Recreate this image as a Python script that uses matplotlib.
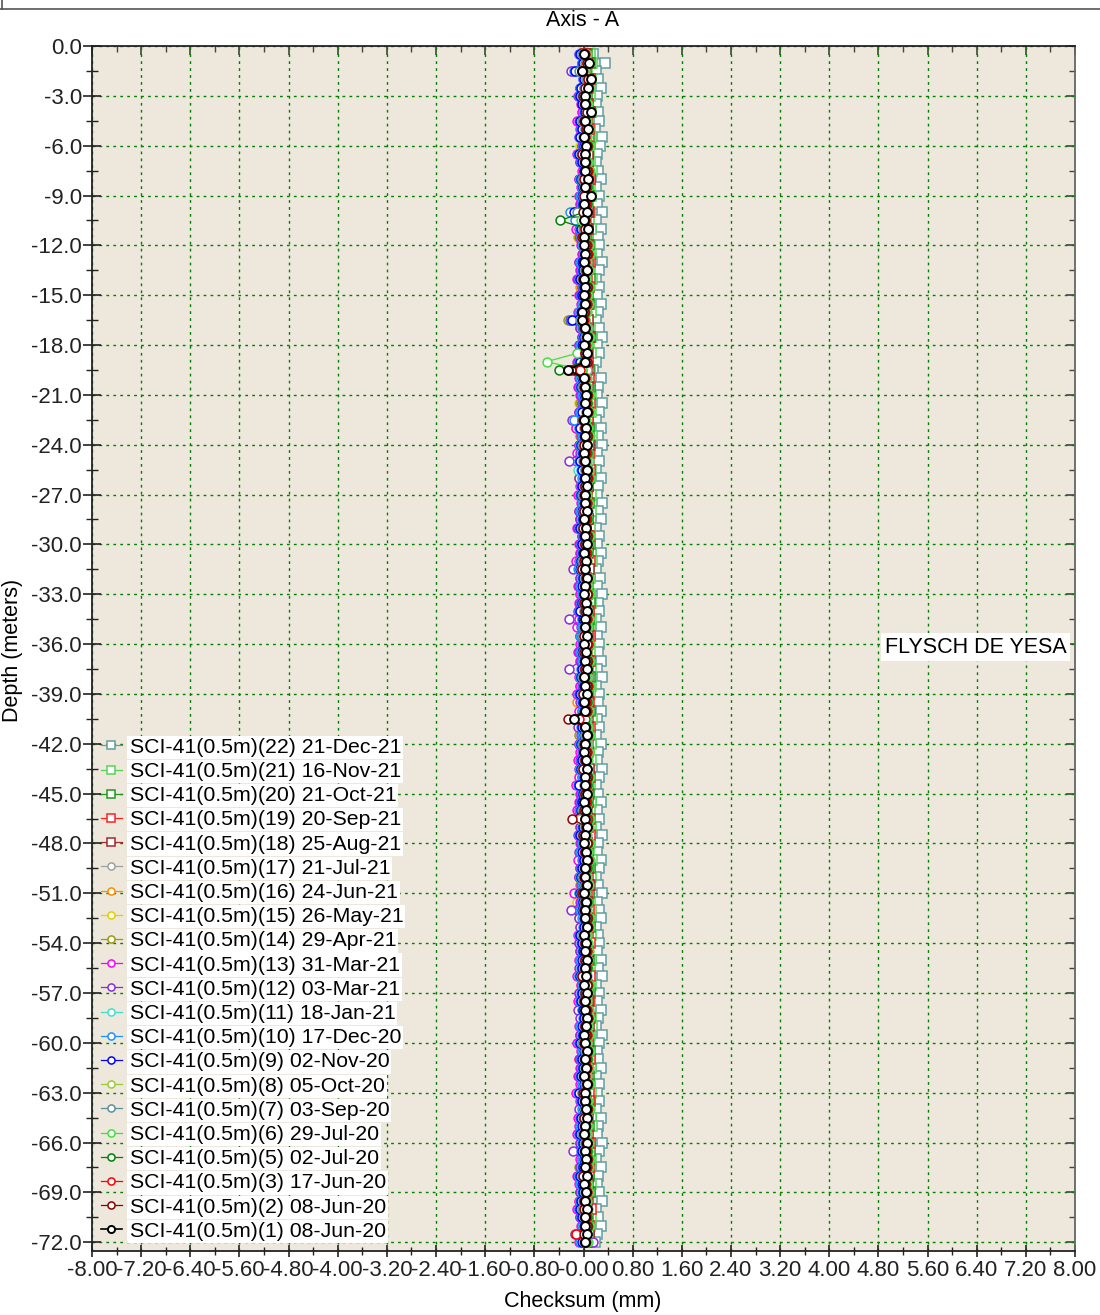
"""Inclinometer checksum profile, SCI-41 axis A."""

import matplotlib

matplotlib.use("Agg")
import matplotlib.pyplot as plt
import numpy as np
from matplotlib.lines import Line2D
from matplotlib.ticker import MultipleLocator

plt.rcParams["font.family"] = ["Liberation Sans", "DejaVu Sans"]

# depth of each reading (m), every 0.5 m down to 72 m
DEPTH = np.arange(-0.5, -72.01, -0.5)

# checksum values in hundredths of mm, one list per survey, top to bottom
S22 = [16, 35, 20, 24, 28, 22, 20, 24, 26, 18, 30, 27, 22, 20, 24, 29, 20, 26,
       22, 30, 20, 28, 24, 26, 22, 30, 25, 20, 26, 22, 28, 23, 20, 26, 30, 22,
       26, 20, 16, 28, 24, 22, 30, 26, 21, 28, 24, 30, 22, 26, 20, 28, 24, 22,
       30, 24, 28, 20, 26, 22, 29, 24, 20, 27, 22, 30, 24, 26, 20, 28, 22, 26,
       24, 28, 22, 30, 20, 26, 24, 29, 22, 26, 20, 28, 24, 22, 30, 26, 20, 24,
       28, 22, 26, 20, 30, 24, 22, 28, 26, 20, 24, 30, 22, 26, 28, 20, 24, 26,
       22, 28, 24, 30, 20, 26, 22, 28, 24, 20, 30, 26, 22, 24, 28, 20, 26, 22,
       26, 20, 28, 24, 22, 30, 26, 20, 28, 24, 22, 26, 30, 20, 24, 28, 22, 18]
S21 = [10, 14, 6, 12, 9, 11, 7, 13, 8, 10, 12, 6, 9, 11, 14, 8, 10, 12,
       7, 11, 9, 13, 6, 10, 12, 8, 11, 14, 9, 7, 10, 12, 8, 11, 13, 9,
       12, 8, 10, 6, 11, 13, 9, 12, 7, 10, 14, 8, 11, 9, 13, 10, 6, 12,
       9, 13, 7, 11, 10, 8, 12, 14, 9, 11, 6, 10, 13, 8, 12, 9, 11, 7,
       11, 7, 13, 9, 12, 10, 8, 11, 14, 6, 10, 12, 9, 13, 7, 11, 10, 8,
       13, 10, 8, 12, 7, 11, 9, 14, 10, 12, 8, 6, 11, 13, 9, 10, 12, 7,
       8, 12, 11, 7, 13, 9, 10, 6, 12, 14, 11, 9, 8, 10, 13, 7, 11, 12,
       10, 9, 12, 14, 8, 11, 7, 13, 10, 9, 12, 11, 6, 8, 13, 10, 9, 11]
S20 = [6, 10, 4, 9, 7, 5, 8, 11, 3, 7, 9, 5, 6, 8, 4, 10, 7, 9,
       5, 8, 3, 7, 4, 9, 6, 3, 8, 10, 5, 7, 9, 4, 6, 8, 11, 5,
       7, 4, 9, 6, 10, 5, 8, 3, 7, 9, 6, 11, 4, 8, 5, 9, 7, 6,
       9, 6, 8, 4, 7, 10, 5, 9, 6, 3, 8, 7, 10, 5, 9, 6, 4, 8,
       4, 9, 7, 11, 5, 8, 6, 10, 3, 7, 9, 5, 8, 6, 4, 10, 7, 9,
       8, 5, 10, 6, 9, 4, 7, 8, 11, 5, 6, 9, 7, 3, 8, 10, 5, 6,
       6, 9, 4, 8, 7, 10, 5, 6, 9, 3, 8, 7, 11, 6, 5, 9, 8, 4,
       10, 7, 5, 9, 6, 8, 11, 4, 7, 9, 5, 10, 6, 8, 7, 4, 9, 5]
S19 = [4, 8, 2, 11, 6, 3, 7, 10, 5, 9, 1, 6, 8, 4, 7, 11, 3, 8,
       6, 9, 4, 7, 2, 8, 5, 10, 3, 6, 9, 4, 7, 1, 5, 8, 10, 6,
       3, 7, 5, 9, 6, 4, 10, 2, 8, 5, 7, 3, 9, 6, 11, 4, 7, 5,
       8, 4, 6, 2, 9, 7, 3, 10, 5, 8, 4, 6, 2, 9, 5, 7, 10, 3,
       5, 10, 3, 8, 6, 2, 9, 4, 7, 10, 3, 8, 5, 6, 1, 9, 4, 7,
       7, 3, 9, 5, 10, 6, 4, 8, 2, 7, 11, 5, 3, 9, 6, 4, 8, 10,
       4, 8, 6, 10, 3, 7, 9, 5, 11, 2, 6, 8, 4, 10, 7, 3, 5, 9,
       9, 5, 7, 3, 8, 10, 4, 6, 9, 1, 7, 5, 8, 12, 6, 9, 3, 6]
S18 = [2, 6, 0, 8, 4, 1, 5, 9, 3, 6, 0, 4, 7, 2, 5, 8, 1, 6,
       3, 7, 1, 5, -2, 6, 2, 8, 4, 0, 6, 3, 5, 1, 7, 4, 9, 2,
       5, 1, 6, 3, 8, 2, 4, 7, 0, 5, 3, 9, 1, 6, 4, 2, 7, 3,
       6, 2, 8, 0, 5, 3, 7, 1, 9, 4, 2, 6, 3, 8, 0, 5, 7, 2,
       3, 7, 1, 6, 4, 0, 8, 2, 5, 7, 1, 4, 6, 3, 9, 2, 5, 4,
       1, 5, 3, 8, 2, 6, 0, 4, 7, 3, 9, 2, 5, 1, 6, 8, 3, 4,
       7, 2, 4, 0, 6, 3, 8, 1, 5, 9, 2, 4, 7, 3, 0, 5, 6, 2,
       4, 8, 2, 5, 1, 7, 3, 6, 0, 4, 8, 2, 6, 3, 5, 1, 9, 4]
S17 = [2, 5, -3, 7, 4, 0, 3, 8, -1, 5, 2, 6, 1, 3, 7, -2, 4, 6,
       0, 4, 2, 6, -3, 3, 5, 1, 7, 2, -1, 4, 6, 0, 3, 8, 2, 5,
       4, 1, 6, 3, 0, 5, 2, 7, -2, 4, 6, 1, 3, 9, 0, 5, 2, 4,
       3, 7, 0, 4, 6, 2, 5, -1, 3, 8, 1, 4, 2, 6, 0, 3, 5, 7,
       5, 0, 3, 7, 2, 4, -2, 6, 1, 5, 3, 8, 0, 4, 6, 2, 7, 1,
       2, 6, 4, 0, 5, 3, 7, 1, 4, -1, 6, 3, 5, 2, 8, 0, 4, 6,
       6, 3, 1, 5, 8, 0, 4, 2, 6, 3, -1, 5, 7, 1, 4, 6, 2, 3,
       1, 5, 7, 2, 4, 6, 0, 3, 8, 5, 2, 4, 1, 7, 3, 5, 0, 4]
S16 = [-4, 2, -8, 4, -2, -6, 0, 3, -5, 1, -3, 2, -7, 0, 4, -4, 1, -2,
       -6, 0, -3, 3, -9, -1, 2, -4, 1, -2, -5, 0, 3, -6, -1, 2, -3, 0,
       1, -3, -10, 0, -5, 2, -2, 4, -6, 0, 2, -4, 1, -3, 3, -7, -1, 2,
       -2, 3, -5, 0, 2, -4, 1, -8, -1, 3, -3, 0, -6, 2, -2, 1, -4, 3,
       0, -5, 2, -3, 4, -1, -11, 1, -4, 2, 0, -2, 3, -6, 1, -3, 2, -1,
       -3, 1, -1, -6, 2, 0, -4, 3, -2, -7, 1, -3, 0, -1, 4, -5, -2, 1,
       2, -2, -6, 1, -4, 3, 0, -3, 2, -1, -5, 1, -2, -8, 0, 2, -3, -1,
       -1, 3, 0, -4, 1, -2, -6, 2, -3, 0, -5, 1, -7, 3, -1, 0, -4, 2]
S15 = [-3, 1, -6, 3, -1, -8, 2, 0, -4, 2, -2, -5, 1, -3, 3, -1, 0, -6,
       0, -4, 2, -1, -7, 1, -2, 3, -5, -1, 2, -3, 0, -6, 1, -2, 4, -3,
       -1, 2, -5, 1, -3, 0, -8, 2, -2, 1, -4, 3, -1, 0, -6, 2, -3, 1,
       2, -2, 0, -5, 3, -1, -3, 1, -7, 2, 0, -4, 1, -2, 3, -9, 0, -1,
       -4, 1, -2, 2, -6, 0, 3, -3, 1, -1, -5, 2, 0, -3, 1, -7, 2, 0,
       1, -3, 2, 0, -4, 3, -1, -6, 2, 0, -2, 1, -10, 3, -1, 0, -5, 2,
       -2, 0, 3, -4, 1, -1, -5, 2, 0, -3, 1, -7, 2, 0, -2, 3, -4, 1,
       0, -5, 1, -2, 3, 0, -3, 1, -6, 2, -1, -4, 2, 0, -3, 1, -14, -2]
S14 = [-5, 0, -9, 2, -3, -7, 1, -2, -6, 0, -4, 1, -8, -1, 2, -5, -2, -3,
       -2, -6, 0, -3, -8, -1, 1, -4, -2, -7, 0, -3, 1, -5, -25, -3, 2, -6,
       -3, 0, -7, -1, -4, 1, -6, 0, -3, -13, -5, 1, -2, -4, 0, -7, -1, -3,
       0, -4, -2, -6, 1, -3, -5, -1, -8, 0, -2, -5, -1, -3, 1, -6, -2, 0,
       -6, -1, -3, 1, -5, -2, 0, -4, -1, -3, -7, 0, -2, -5, -1, -3, 0, -4,
       -1, -5, 0, -2, -6, 1, -3, -4, 0, -2, -5, -1, -3, 0, -7, -2, -4, 1,
       -4, -2, 1, -5, -1, -3, -6, 0, -2, -4, 0, -8, 1, -3, -2, -5, 0, -1,
       -2, -6, -1, -3, 0, -4, -2, -1, -7, 0, -3, -5, 1, -2, -4, -1, -6, -3]
S13 = [-8, -3, -18, -1, -6, -9, -4, -2, -10, -5, -7, -3, -11, -6, -2, -8, -4, -7,
       -5, -9, -3, -12, -6, -4, -2, -8, -5, -10, -3, -7, -4, -9, -14, -6, -3, -8,
       -6, -11, -4, -7, -9, -5, -3, -8, -6, -12, -4, -7, -10, -5, -8, -3, -6, -9,
       -4, -8, -6, -10, -3, -7, -5, -13, -4, -6, -9, -5, -8, -3, -7, -11, -5, -6,
       -9, -5, -3, -8, -6, -11, -4, -7, -10, -5, -3, -8, -6, -9, -4, -7, -12, -5,
       -7, -10, -5, -4, -8, -6, -3, -9, -6, -7, -4, -16, -5, -8, -6, -3, -9, -7,
       -5, -8, -6, -11, -4, -7, -9, -5, -3, -8, -6, -10, -4, -7, -5, -9, -6, -12,
       -6, -4, -9, -7, -10, -5, -8, -6, -4, -11, -7, -5, -8, -10, -6, -4, -9, -7]
S12 = [-6, -2, -20, 0, -5, -8, -3, 1, -7, -4, -6, -2, -9, -5, 0, -7, -3, -6,
       -4, -14, -2, -8, -5, -3, -1, -7, -4, -9, -2, -6, -3, -8, -22, -5, -2, -7,
       -5, -9, -3, -6, -8, -4, -2, -7, -18, -5, -3, -8, -6, -24, -4, -7, -2, -6,
       -3, -7, -5, -9, -2, -6, -4, -8, -17, -5, -7, -3, -6, -9, -24, -4, -6, -2,
       -7, -4, -24, -6, -3, -8, -5, -2, -6, -9, -4, -7, -3, -5, -8, -2, -6, -4,
       -5, -8, -3, -6, -9, -4, -7, -2, -5, -8, -3, -6, -4, -20, -7, -5, -2, -8,
       -6, -3, -8, -5, -2, -7, -4, -9, -6, -3, -5, -8, -2, -6, -4, -7, -3, -5,
       -4, -7, -5, -2, -8, -6, -17, -3, -5, -9, -4, -6, -2, -7, -5, -3, -14, 16]
S11 = [-4, 0, -12, 2, -3, -6, -1, 1, -5, -2, -4, 0, -7, -3, 1, -5, -1, -4,
       -2, -18, 0, -5, -3, -1, 1, -4, -2, -6, 0, -3, -1, -5, -8, -2, 0, -4,
       -3, -6, -12, -4, -5, -1, 0, -4, -3, -7, -1, -5, -2, -6, -9, -1, -3, -5,
       -1, -4, -2, -6, 0, -3, -2, -5, -8, -2, -4, -1, -3, -6, -2, -1, -4, 0,
       -4, -1, -3, -5, 0, -6, -2, -1, -4, -3, -1, -5, 0, -3, -5, -1, -8, -2,
       -3, -5, -1, -2, -6, -1, -4, 0, -3, -5, -1, -7, -2, -4, -1, 0, -6, -3,
       -2, -4, -3, -7, -1, -3, -5, -2, 0, -4, -2, -6, -1, -3, -2, -5, -1, -8,
       -3, -1, -5, -4, -6, -2, -3, -1, -2, -7, -4, -2, -5, -6, -3, -1, -5, -4]
S10 = [-7, -3, -16, -1, -5, -8, -2, 0, -6, -4, -7, -1, -9, -4, 0, -6, -2, -5,
       -3, -22, -14, -6, -4, -2, 0, -5, -3, -8, -1, -4, -2, -7, -20, -3, -1, -6,
       -4, -7, -15, -5, -6, -2, -1, -5, -16, -8, -2, -6, -3, -7, -4, -2, -4, -6,
       -2, -5, -3, -7, -1, -4, -3, -6, -9, -3, -5, -2, -4, -7, -3, -2, -5, -1,
       -5, -2, -4, -6, -1, -7, -3, -2, -5, -4, -2, -6, -1, -4, -6, -2, -9, -3,
       -4, -6, -2, -3, -7, -2, -5, -1, -4, -6, -2, -8, -3, -5, -2, -1, -7, -4,
       -3, -5, -4, -8, -2, -4, -6, -3, -1, -5, -3, -7, -2, -4, -3, -6, -2, -9,
       -4, -2, -6, -5, -7, -3, -4, -2, -3, -8, -5, -3, -6, -7, -4, -2, -6, -5]
S9 = [-5, -1, -14, 1, -4, -6, -2, 2, -5, -3, -5, 0, -8, -2, 1, -4, -1, -3,
      -1, -16, -3, -4, -2, 0, 2, -3, -1, -6, 1, -2, 0, -4, -18, -1, 1, -3,
      -2, -5, -14, -3, -4, 0, 1, -3, -2, -6, 0, -4, -1, -5, -3, 0, -2, -4,
      0, -3, -1, -5, 1, -2, -1, -4, -6, -1, -3, 0, -2, -5, -1, 0, -3, 1,
      -3, 0, -2, -4, 1, -5, -1, 0, -3, -2, 0, -4, 1, -2, -4, 0, -7, -1,
      -2, -4, 0, -1, -5, 0, -3, 1, -2, -4, 0, -6, -1, -3, 0, 1, -5, -2,
      -1, -3, -2, -6, 0, -2, -4, -1, 1, -3, -1, -5, 0, -2, -1, -4, 0, -7,
      -2, 0, -4, -3, -5, -1, -2, 0, -1, -6, -3, -1, -4, -5, -2, 0, -4, -3]
S8 = [3, 6, -2, 5, 1, 2, 5, 6, 2, 3, 0, 4, 1, 4, 5, 2, 1, 3,
      2, 1, 4, 0, -2, 3, 5, 4, 3, 1, 4, 3, 2, 2, 1, 3, 4, 1,
      4, 3, -4, 2, 1, 4, 2, 5, 1, 3, 4, 2, 5, 0, 3, 5, 4, 1,
      3, 2, 5, 1, 4, 3, 2, 1, 0, 3, 4, 6, 2, 1, 3, 4, 2, 5,
      2, 4, 3, 2, 5, 1, 4, 3, -3, 4, 3, 2, 5, 1, 1, 4, 2, 3,
      4, 2, -6, 3, 1, 4, 3, 5, 2, 2, 3, 0, 5, 2, 4, 5, 2, 3,
      3, 4, 2, 0, 4, 2, 3, 3, 5, 4, 3, 1, 4, 2, 3, 2, 4, 1,
      4, 3, 2, 4, 1, 3, 5, 4, 3, 1, 4, 3, 2, 2, 5, 4, 0, 3]
S7 = [-2, 3, -7, 4, 0, -3, 1, 5, -2, 2, -1, 3, -4, 0, 4, -2, 1, -1,
      1, -10, 3, -1, -4, 2, 4, 0, 2, -3, 3, 0, 2, -2, -6, -1, 3, 0,
      0, 2, -9, -1, -2, 3, 1, 4, -3, 0, 3, -2, 1, -1, 2, 4, 0, -2,
      2, -1, 1, -3, 3, 0, 1, -2, -4, 2, 0, 3, -1, 1, 2, 0, -2, 4,
      -1, 3, 0, -2, 4, -3, 1, 2, -1, 0, 3, -2, 2, 0, -3, 3, 1, 0,
      1, -2, 3, 2, -3, 3, 0, 4, 1, -2, 2, -4, 1, -1, 3, 4, -2, 0,
      2, 0, 1, -4, 3, 1, -1, 2, 4, 0, 2, -2, 3, 1, 2, -1, 3, -3,
      0, 3, -1, 0, -2, 2, 1, 3, 2, -3, 0, 2, -1, -2, 1, 3, -1, 0]
S6 = [6, 10, 2, 12, 8, 4, 7, 11, 5, 9, 6, 10, 3, 7, 11, 5, 8, 6,
      8, 4, -4, 7, 3, 9, 11, 6, 9, 4, 10, 7, 9, 5, 2, 6, 10, 7,
      -11, -60, -2, 6, 5, 10, 8, 11, 4, 7, 10, 5, 8, 6, 9, 11, 7, 5,
      9, 6, 8, 4, 10, 7, 8, 5, 3, 9, 7, 10, 6, 8, 9, 7, 5, 11,
      6, 10, 7, 5, 11, 4, 8, 9, 6, 7, 10, 5, 9, 7, 4, 10, 8, 7,
      8, 5, 10, 9, 4, 10, 7, 11, 8, 5, 9, 3, 8, 6, 10, 11, 5, 7,
      9, 7, 8, 3, 10, 8, 6, 9, 11, 7, 9, 5, 10, 8, 9, 6, 10, 4,
      7, 10, 6, 7, 5, 9, 8, 10, 9, 4, 7, 9, 6, 5, 8, 10, 6, 7]
S5 = [3, 7, -1, 9, 5, 1, 4, 8, 2, 6, 3, 7, 0, 4, 8, 2, 5, 3,
      5, 1, -38, 4, 0, 6, 8, 3, 6, 1, 7, 4, 6, 2, -1, 3, 7, 4,
      4, 1, -40, 3, 2, 7, 5, 8, 1, 4, 7, 2, 5, 3, 6, 8, 4, 2,
      6, 3, 5, 1, 7, 4, 5, 2, 0, 6, 4, 7, 3, 5, 6, 4, 2, 8,
      3, 7, 4, 2, 8, 1, 5, 6, 3, 4, 7, 2, 6, 4, 1, 7, 5, 4,
      5, 2, 7, 6, 1, 7, 4, 8, 5, 2, 6, 0, 5, 3, 7, 8, 2, 4,
      6, 4, 5, 0, 7, 5, 3, 6, 8, 4, 6, 2, 7, 5, 6, 3, 7, 1,
      4, 7, 3, 4, 2, 6, 5, 7, 6, 1, 4, 6, 3, 2, 5, 7, 3, 4]
S3 = [2, 6, -3, 8, 4, 0, 3, 7, 1, 5, 2, 6, -1, 3, 7, 1, 4, 2,
      4, 0, 3, 3, -1, 5, 7, 2, 5, 0, 6, 3, 5, 1, 0, 2, 6, 3,
      3, 6, -6, 2, 1, 6, 4, 7, 0, 3, 6, 1, 4, 2, 5, 7, 3, 1,
      5, 2, 4, 0, 6, 3, 4, 1, -1, 5, 3, 6, 2, 4, 5, 3, 1, 7,
      2, 6, 3, 1, 7, 0, 4, 5, -8, 3, 6, 1, 5, 3, 0, 6, 4, 3,
      4, 1, 6, 5, 0, 6, 3, 7, 4, 1, 5, -1, 4, 2, 6, 7, 1, 3,
      5, 3, 4, -1, 6, 4, 2, 5, 7, 3, 5, 1, 6, 4, 5, 2, 6, 0,
      3, 6, 2, 3, 1, 5, 4, 6, 5, 0, 3, 5, 2, 1, 4, 6, -12, 3]
S2 = [1, 5, -2, 7, 3, -1, 2, 6, 0, 4, 1, 5, -2, 2, 6, 0, 3, 1,
      3, -1, 2, 2, -2, 4, 6, 1, 4, -1, 5, 2, 4, 0, -1, 1, 5, 2,
      2, 5, -20, 1, 0, 5, 3, 6, -1, 2, 5, 0, 3, 1, 4, 6, 2, 0,
      4, 1, 3, -1, 5, 2, 3, 0, -2, 4, 2, 5, 1, 3, 4, 2, 0, 6,
      1, 5, 2, 0, 6, -1, 3, 4, -25, 2, 5, 0, 4, 2, -1, 5, 3, 2,
      3, 0, -19, 4, -1, 5, 2, 6, 3, 0, 4, -2, 3, 1, 5, 6, 0, 2,
      4, 2, 3, -2, 5, 3, 1, 4, 6, 2, 4, 0, 5, 3, 4, 1, 5, -1,
      2, 5, 1, 2, 0, 4, 3, 5, 4, -1, 2, 4, 1, 0, 3, 5, 1, 2]
S1 = [0, 9, -2, 13, 7, 3, 2, 13, 2, 8, 1, 4, 2, 2, 2, 7, 2, 13,
      1, 5, 0, 7, 1, 1, 2, 1, 5, 1, 2, 1, 2, -3, -3, 3, 5, 1,
      5, 2, -25, 1, 3, 4, 2, 6, 1, 4, 2, 5, 0, 3, 5, 2, 6, 3,
      2, 5, 1, 4, 3, 6, 0, 4, 2, 5, 3, 1, 4, 6, 2, 3, 5, 1,
      4, 2, 6, 1, 3, 5, 0, 3, -16, 2, 5, 3, 1, 4, 6, 2, 3, 5,
      1, 4, 2, 5, 3, 0, 4, 6, 2, 3, 5, 1, 4, 2, 3, 6, 1, 4,
      3, 5, 2, 4, 1, 6, 3, 2, 5, 4, 1, 3, 6, 2, 4, 1, 5, 3,
      2, 4, 6, 3, 1, 5, 2, 4, 3, 6, 1, 4, 2, 5, 3, 2, 6, 3]

SERIES = [S22, S21, S20, S19, S18, S17, S16, S15, S14, S13, S12,
          S11, S10, S9, S8, S7, S6, S5, S3, S2, S1]
LABELS = [
    "SCI-41(0.5m)(22) 21-Dec-21", "SCI-41(0.5m)(21) 16-Nov-21",
    "SCI-41(0.5m)(20) 21-Oct-21", "SCI-41(0.5m)(19) 20-Sep-21",
    "SCI-41(0.5m)(18) 25-Aug-21", "SCI-41(0.5m)(17) 21-Jul-21",
    "SCI-41(0.5m)(16) 24-Jun-21", "SCI-41(0.5m)(15) 26-May-21",
    "SCI-41(0.5m)(14) 29-Apr-21", "SCI-41(0.5m)(13) 31-Mar-21",
    "SCI-41(0.5m)(12) 03-Mar-21", "SCI-41(0.5m)(11) 18-Jan-21",
    "SCI-41(0.5m)(10) 17-Dec-20", "SCI-41(0.5m)(9) 02-Nov-20",
    "SCI-41(0.5m)(8) 05-Oct-20", "SCI-41(0.5m)(7) 03-Sep-20",
    "SCI-41(0.5m)(6) 29-Jul-20", "SCI-41(0.5m)(5) 02-Jul-20",
    "SCI-41(0.5m)(3) 17-Jun-20", "SCI-41(0.5m)(2) 08-Jun-20",
    "SCI-41(0.5m)(1) 08-Jun-20",
]
COLORS = ["#5F9EA0", "#55D455", "#1E9A1E", "#FF2020", "#A52A2A", "#A0A0A0",
          "#FF8C00", "#E8CC00", "#9A9A10", "#FF00FF", "#8A2BE2", "#40E0D0",
          "#1E90FF", "#0000FF", "#9ACD32", "#5A8FA0", "#44DD44", "#008000",
          "#FF0000", "#8B0000", "#000000"]
MARKERS = ["s"] * 5 + ["o"] * 16

XTICKS = [-8.0, -7.2, -6.4, -5.6, -4.8, -4.0, -3.2, -2.4, -1.6, -0.8, 0.0,
          0.8, 1.6, 2.4, 3.2, 4.0, 4.8, 5.6, 6.4, 7.2, 8.0]
XTICK_LABELS = ["-8.00", "-7.20", "-6.40", "-5.60", "-4.80", "-4.00", "-3.20",
                "-2.40", "-1.60", "-0.80", "-0.00", "0.80", "1.60", "2.40",
                "3.20", "4.00", "4.80", "5.60", "6.40", "7.20", "8.00"]
YTICKS = [0, -3, -6, -9, -12, -15, -18, -21, -24, -27, -30, -33, -36, -39,
          -42, -45, -48, -51, -54, -57, -60, -63, -66, -69, -72]

for s in SERIES:
    assert len(s) == len(DEPTH), len(s)

FS = 16      # tick labels
FS_TXT = 15.5
FS_LEG = 15.3
W, H = 1100, 1315
fig = plt.figure(figsize=(W / 100, H / 100), dpi=100)
fig.patch.set_facecolor("white")
ax = fig.add_axes([92 / W, 1 - 1250.5 / H, (1075 - 92) / W, (1250.5 - 46) / H])
ax.set_facecolor("#EEE8DC")
ax.set_axisbelow(True)

for vals, label, color, marker in zip(SERIES, LABELS, COLORS, MARKERS):
    black = color == "#000000"
    ax.plot(np.array(vals) / 100.0, DEPTH, color=color, lw=1.2 if black else 0.9,
            marker=marker, markersize=6.6 if marker == "s" else 6.4,
            markerfacecolor="white", markeredgecolor=color,
            markeredgewidth=1.4 if black else 1.1, label=label)

ax.set_xlim(-8, 8)
ax.set_ylim(-72.5, 0)
ax.set_xticks(XTICKS)
ax.set_xticklabels(XTICK_LABELS)
ax.set_yticks(YTICKS)
ax.set_yticklabels([f"{v:.1f}" for v in YTICKS])
ax.xaxis.set_minor_locator(MultipleLocator(0.4))
ax.yaxis.set_minor_locator(MultipleLocator(1.5))

ax.grid(which="major", color="#008000", lw=1.0, linestyle=(0, (2, 3)))
ax.tick_params(axis="x", which="major", direction="inout", length=9, width=1.2,
               labelsize=FS, pad=2, colors="#222")
ax.tick_params(axis="x", which="minor", direction="inout", length=6, width=1.0,
               colors="#222")
ax.tick_params(axis="y", which="major", direction="inout", length=12.5, width=1.2,
               labelsize=FS, pad=1, colors="#222")
ax.tick_params(axis="y", which="minor", direction="inout", length=8, width=1.0,
               colors="#222")
for side in ["left", "bottom", "top"]:
    ax.spines[side].set_color("#222")
    ax.spines[side].set_linewidth(1.3)
ax.spines["right"].set_color("#666")
ax.spines["right"].set_linewidth(1.3)

# inward ticks on top and right edges
top = ax.secondary_xaxis("top")
top.set_xticks(XTICKS)
top.xaxis.set_minor_locator(MultipleLocator(0.4))
top.tick_params(which="major", direction="in", length=6.5, width=1.2,
                labeltop=False, colors="#444")
top.tick_params(which="minor", direction="in", length=4.3, width=1.0, colors="#444")
top.spines["top"].set_visible(False)
right = ax.secondary_yaxis("right")
right.set_yticks(YTICKS)
right.yaxis.set_minor_locator(MultipleLocator(1.5))
right.tick_params(which="major", direction="in", length=6.5, width=1.2,
                  labelright=False, colors="#444")
right.tick_params(which="minor", direction="in", length=4.3, width=1.0, colors="#444")
right.spines["right"].set_visible(False)

leg = ax.legend(loc="lower left", bbox_to_anchor=(0.009, 0.008), frameon=False,
                fontsize=FS_LEG, handlelength=1.0, handletextpad=0.35,
                labelspacing=0.245, borderaxespad=0, borderpad=0, markerscale=0.8)
for t in leg.get_texts():
    t.set_bbox(dict(facecolor="white", edgecolor="none", pad=1.5))

ax.text(7.86, -36.2, "FLYSCH DE YESA", ha="right", va="center", fontsize=FS_TXT,
        bbox=dict(facecolor="white", edgecolor="none", pad=2.5))

fig.text(583 / W, 1 - 20 / H, "Axis - A", ha="center", va="center",
         fontsize=FS_TXT)
fig.text(583 / W, 1 - 1301 / H, "Checksum (mm)", ha="center", va="center",
         fontsize=FS_TXT)
fig.text(13 / W, 1 - 650 / H, "Depth (meters)", ha="center", va="center",
         rotation=90, fontsize=FS_TXT)

# frame remnant along the top edge
fig.add_artist(Line2D([0, 1], [1 - 8.5 / H] * 2, transform=fig.transFigure,
                      color="#555", lw=1.2))
fig.add_artist(Line2D([1.5 / W] * 2, [1, 1 - 8.5 / H], transform=fig.transFigure,
                      color="#555", lw=1.2))

fig.savefig("out.png", dpi=100)
